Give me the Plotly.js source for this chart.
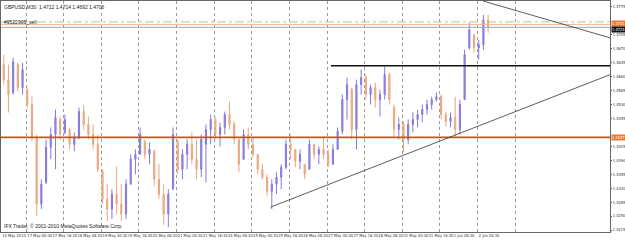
<!DOCTYPE html>
<html><head><meta charset="utf-8">
<script src="https://cdn.plot.ly/plotly-3.0.1.min.js"></script>
<style>html,body{margin:0;padding:0;background:#fff;}#chart{width:625px;height:240px;}</style>
</head><body><div id="chart"></div>
<script>
// 3-hour aggregated candles (6 x M30 bars each)
const candleOpen = [1.46300,1.45925,1.45600,1.46300,1.45725,1.45675,1.45300,1.44475,1.42800,1.43350,
1.44225,1.44550,1.44925,1.44600,1.44675,1.44300,1.44475,1.45125,1.44800,1.44550,
1.44300,1.43625,1.42925,1.42675,1.43050,1.42800,1.42550,1.43300,1.43925,1.44050,
1.44375,1.44050,1.44125,1.43425,1.43050,1.42550,1.43175,1.44375,1.43675,1.44050,
1.44300,1.43925,1.43675,1.44300,1.44675,1.44925,1.44550,1.44725,1.45050,1.44800,
1.44425,1.43925,1.44550,1.44300,1.44050,1.43675,1.43475,1.43125,1.43300,1.43475,
1.43725,1.44300,1.44175,1.43875,1.43800,1.43675,1.44300,1.44050,1.44175,1.44050,
1.43800,1.44175,1.44625,1.45425,1.45675,1.44675,1.45800,1.45975,1.45550,1.45725,
1.45425,1.45550,1.46050,1.45225,1.44675,1.44800,1.44425,1.44800,1.44925,1.45050,
1.45175,1.45300,1.45425,1.45500,1.45050,1.44875,1.44975,1.44675,1.45425,1.46725,
1.47050,1.46725,1.46800,1.47425];
const candleHigh = [1.46550,1.46300,1.46475,1.46350,1.46350,1.45725,1.45500,1.44550,1.43425,1.44425,
1.44725,1.45175,1.45000,1.45050,1.44725,1.44600,1.45225,1.45300,1.45000,1.44800,
1.44550,1.43675,1.43300,1.43175,1.43750,1.43300,1.43425,1.44050,1.44175,1.44725,
1.44425,1.44350,1.44175,1.43800,1.43300,1.43175,1.44725,1.44425,1.44175,1.44425,
1.44600,1.44425,1.44550,1.44800,1.45050,1.44975,1.44850,1.45125,1.45375,1.44875,
1.44425,1.44675,1.44725,1.44475,1.44050,1.43800,1.43550,1.43425,1.43600,1.43800,
1.44425,1.44550,1.44175,1.44175,1.43800,1.44425,1.44300,1.44250,1.44500,1.44175,
1.44300,1.44725,1.45550,1.45975,1.45725,1.45925,1.46175,1.46050,1.45800,1.45850,
1.45675,1.46250,1.46100,1.45300,1.44975,1.44875,1.44925,1.45100,1.45175,1.45300,
1.45425,1.45500,1.45600,1.45550,1.45125,1.45100,1.45500,1.45425,1.46675,1.47350,
1.47050,1.46925,1.47550,1.47550];
const candleLow = [1.45800,1.45100,1.45550,1.45625,1.45550,1.45225,1.44375,1.42500,1.42675,1.43300,
1.43925,1.43675,1.44425,1.44550,1.44175,1.44125,1.44425,1.44675,1.44425,1.44175,
1.43600,1.42800,1.42375,1.42425,1.42550,1.42375,1.42425,1.43300,1.43550,1.44050,
1.43925,1.43800,1.43250,1.42925,1.42275,1.42225,1.43175,1.43550,1.43425,1.43675,
1.43800,1.43425,1.43475,1.43350,1.44300,1.44425,1.44250,1.44550,1.44675,1.44300,
1.43600,1.43925,1.44175,1.43975,1.43550,1.43425,1.43000,1.42675,1.43050,1.43175,
1.43675,1.43925,1.43725,1.43675,1.43425,1.43675,1.43925,1.43800,1.43925,1.43725,
1.43800,1.44175,1.44550,1.44925,1.44425,1.44175,1.45550,1.45425,1.45300,1.45225,
1.45000,1.45425,1.45300,1.44500,1.44425,1.44100,1.44300,1.44600,1.44725,1.44850,
1.45050,1.45175,1.45375,1.44925,1.44750,1.44725,1.44500,1.44550,1.45425,1.46675,
1.46600,1.46425,1.46675,1.47100];
const candleClose = [1.45925,1.45550,1.46375,1.45725,1.46175,1.45300,1.44475,1.42800,1.43300,1.44225,
1.44550,1.44975,1.44550,1.44925,1.44300,1.44475,1.45125,1.44800,1.44550,1.44300,
1.43675,1.42925,1.42675,1.43050,1.42800,1.42550,1.43300,1.43925,1.44050,1.44550,
1.44050,1.44175,1.43425,1.43050,1.42550,1.43050,1.44550,1.43675,1.44050,1.44300,
1.43925,1.43675,1.44425,1.44675,1.44925,1.44550,1.44725,1.45050,1.44800,1.44425,
1.43800,1.44550,1.44300,1.44050,1.43675,1.43475,1.43125,1.43300,1.43475,1.43725,
1.44300,1.44175,1.43875,1.44050,1.43550,1.44300,1.44050,1.44175,1.44050,1.43800,
1.44175,1.44625,1.45425,1.45800,1.44675,1.45800,1.45975,1.45550,1.45725,1.45425,
1.45550,1.46050,1.45425,1.44675,1.44800,1.44425,1.44800,1.44925,1.45050,1.45175,
1.45300,1.45425,1.45500,1.45050,1.44875,1.44975,1.44675,1.45300,1.46550,1.47175,
1.46725,1.46800,1.47425,1.47238];

// time axis labels (bar index of M30 bars, weekends skipped)
const tickBars = [0,32,64,96,128,160,192,224,256,288,320,352,384,416,448,480,512,544,576,608];
const tickLabels = ["14 May 2010","17 May 00:30","17 May 16:30","18 May 08:30","19 May 00:30","19 May 16:30",
"20 May 08:30","21 May 00:30","21 May 16:30","24 May 08:30","25 May 00:30","25 May 16:30","26 May 08:30",
"27 May 00:30","27 May 16:30","28 May 08:30","31 May 00:30","31 May 16:30","1 Jun 08:30","2 Jun 00:30"];
const dayStartBars = [31,79,127,175,223,271,319,367,415,463,511,559,607,655];
// price scale labels (the ones hidden under the level boxes are left out)
const priceTicks = [1.4215,1.4250,1.4285,1.4320,1.4355,1.4390,1.4425,1.4495,1.4530,1.4565,
1.4600,1.4635,1.4670,1.4705,1.4775];

// drawn objects
const supportLevel = 1.44475;
const resistanceLevel = 1.46275;
const resistanceStartBar = 420;
const lowTrendBars = [343, 776];
const lowTrendPrices = [1.42725, 1.46050];
const highTrendBars = [614, 776];
const highTrendPrices = [1.47900, 1.46975];
const levelDash = 1.47375;
const levelAsk = 1.47313;
const levelBid = 1.47238;

const headerText = "GBPUSD,M30  1.4712 1.4714 1.4692 1.4706";
const indicatorText = "#9522905_sell";
const footerText = "IFX Trader, \u00a9 2001-2010 MetaQuotes Software Corp.";

const barsPerCandle = 6;
const xs = candleOpen.map((_, i) => i * barsPerCandle + 2.5);

const F = "Liberation Sans, Arial, sans-serif";
const FN = "Liberation Sans Narrow, DejaVu Sans Condensed, Arial Narrow, sans-serif";
const FS = 4.0;
const trace = {
  type: 'candlestick', x: xs, open: candleOpen, high: candleHigh, low: candleLow, close: candleClose,
  increasing: {line: {color: '#8679da', width: 1}, fillcolor: '#978de0'},
  decreasing: {line: {color: '#eca67c', width: 1}, fillcolor: '#f0b490'},
  whiskerwidth: 0, hoverinfo: 'skip', showlegend: false
};
const gridTrace = {type: 'scatter', x: [dayStartBars[0]], y: [supportLevel], xaxis: 'x2', mode: 'none', showlegend: false, hoverinfo: 'skip'};

const shapes = [
  {type:'line', xref:'paper', x0:0, x1:1, yref:'y', y0:levelDash, y1:levelDash, line:{color:'#bcc58e', width:1, dash:'dashdot'}},
  {type:'line', xref:'paper', x0:0, x1:1, yref:'y', y0:levelAsk, y1:levelAsk, line:{color:'#efb68d', width:1}},
  {type:'line', xref:'paper', x0:0, x1:1, yref:'y', y0:levelBid, y1:levelBid, line:{color:'#a8a8a8', width:1}},
  {type:'line', xref:'paper', x0:0, x1:1, yref:'y', y0:supportLevel, y1:supportLevel, line:{color:'#c2561f', width:1.6}},
  {type:'line', xref:'x', x0:resistanceStartBar, x1:800, yref:'y', y0:resistanceLevel, y1:resistanceLevel, line:{color:'#111', width:1.6}},
  {type:'line', xref:'x', x0:lowTrendBars[0], x1:lowTrendBars[1], yref:'y', y0:lowTrendPrices[0], y1:lowTrendPrices[1], line:{color:'#333', width:0.8}},
  {type:'line', xref:'x', x0:highTrendBars[0], x1:highTrendBars[1], yref:'y', y0:highTrendPrices[0], y1:highTrendPrices[1], line:{color:'#333', width:0.8}}
];

function axisLabel(v, bg, dy) {
  return {xref:'paper', x:1, xanchor:'left', xshift:1, yref:'y', y:v, yanchor:'middle', yshift:dy, text:v.toFixed(4),
    showarrow:false, bgcolor:bg, font:{family:FN, size:FS, color:'#fff'}, borderpad:0};
}
const annotations = [
  {xref:'paper', yref:'paper', x:0, y:1, xanchor:'left', yanchor:'top', xshift:1, yshift:-1, text:headerText, showarrow:false, font:{family:F, size:5, color:'#222'}},
  {xref:'paper', yref:'paper', x:0, y:1, xanchor:'left', yanchor:'top', xshift:1, yshift:-16, text:indicatorText, showarrow:false, font:{family:F, size:5, color:'#222'}},
  {xref:'paper', yref:'paper', x:0, y:0, xanchor:'left', yanchor:'bottom', xshift:1, yshift:1, text:footerText, showarrow:false, font:{family:F, size:5, color:'#222'}},
  axisLabel(levelAsk, '#e8792f', 1),
  axisLabel(levelBid, '#111', -2),
  axisLabel(supportLevel, '#e8792f', 0)
];

const layout = {
  width: 625, height: 240, margin: {l: 1, r: 15, t: 1, b: 8},
  paper_bgcolor: '#fff', plot_bgcolor: '#fff', showlegend: false, boxgap: 0.65,
  font: {family: FN, size: FS, color: '#333'},
  xaxis: {range: [-1, 776], tickvals: tickBars, ticktext: tickLabels, ticklabelposition: 'outside right',
    tickangle: 0, ticks: '', ticklabelstandoff: -1, showgrid: false, zeroline: false,
    showline: true, mirror: true, linecolor: '#666', linewidth: 1,
    tickfont: {family: FN, size: FS, color: '#333'}, rangeslider: {visible: false}, fixedrange: true},
  xaxis2: {range: [-1, 776], overlaying: 'x', tickvals: dayStartBars, showticklabels: false, ticks: '',
    showgrid: true, gridcolor: '#9a9a9a', gridwidth: 1, griddash: 'dot', zeroline: false, showline: false},
  yaxis: {range: [1.4210, 1.4790], side: 'right', tickvals: priceTicks, tickformat: '.4f',
    ticks: 'outside', ticklen: 1, tickcolor: '#555', ticklabelstandoff: 0, showgrid: false, zeroline: false,
    showline: true, mirror: true, linecolor: '#666', linewidth: 1,
    tickfont: {family: FN, size: FS, color: '#333'}},
  shapes: shapes, annotations: annotations
};
Plotly.newPlot('chart', [gridTrace, trace], layout, {displayModeBar: false, staticPlot: true});
</script></body></html>
